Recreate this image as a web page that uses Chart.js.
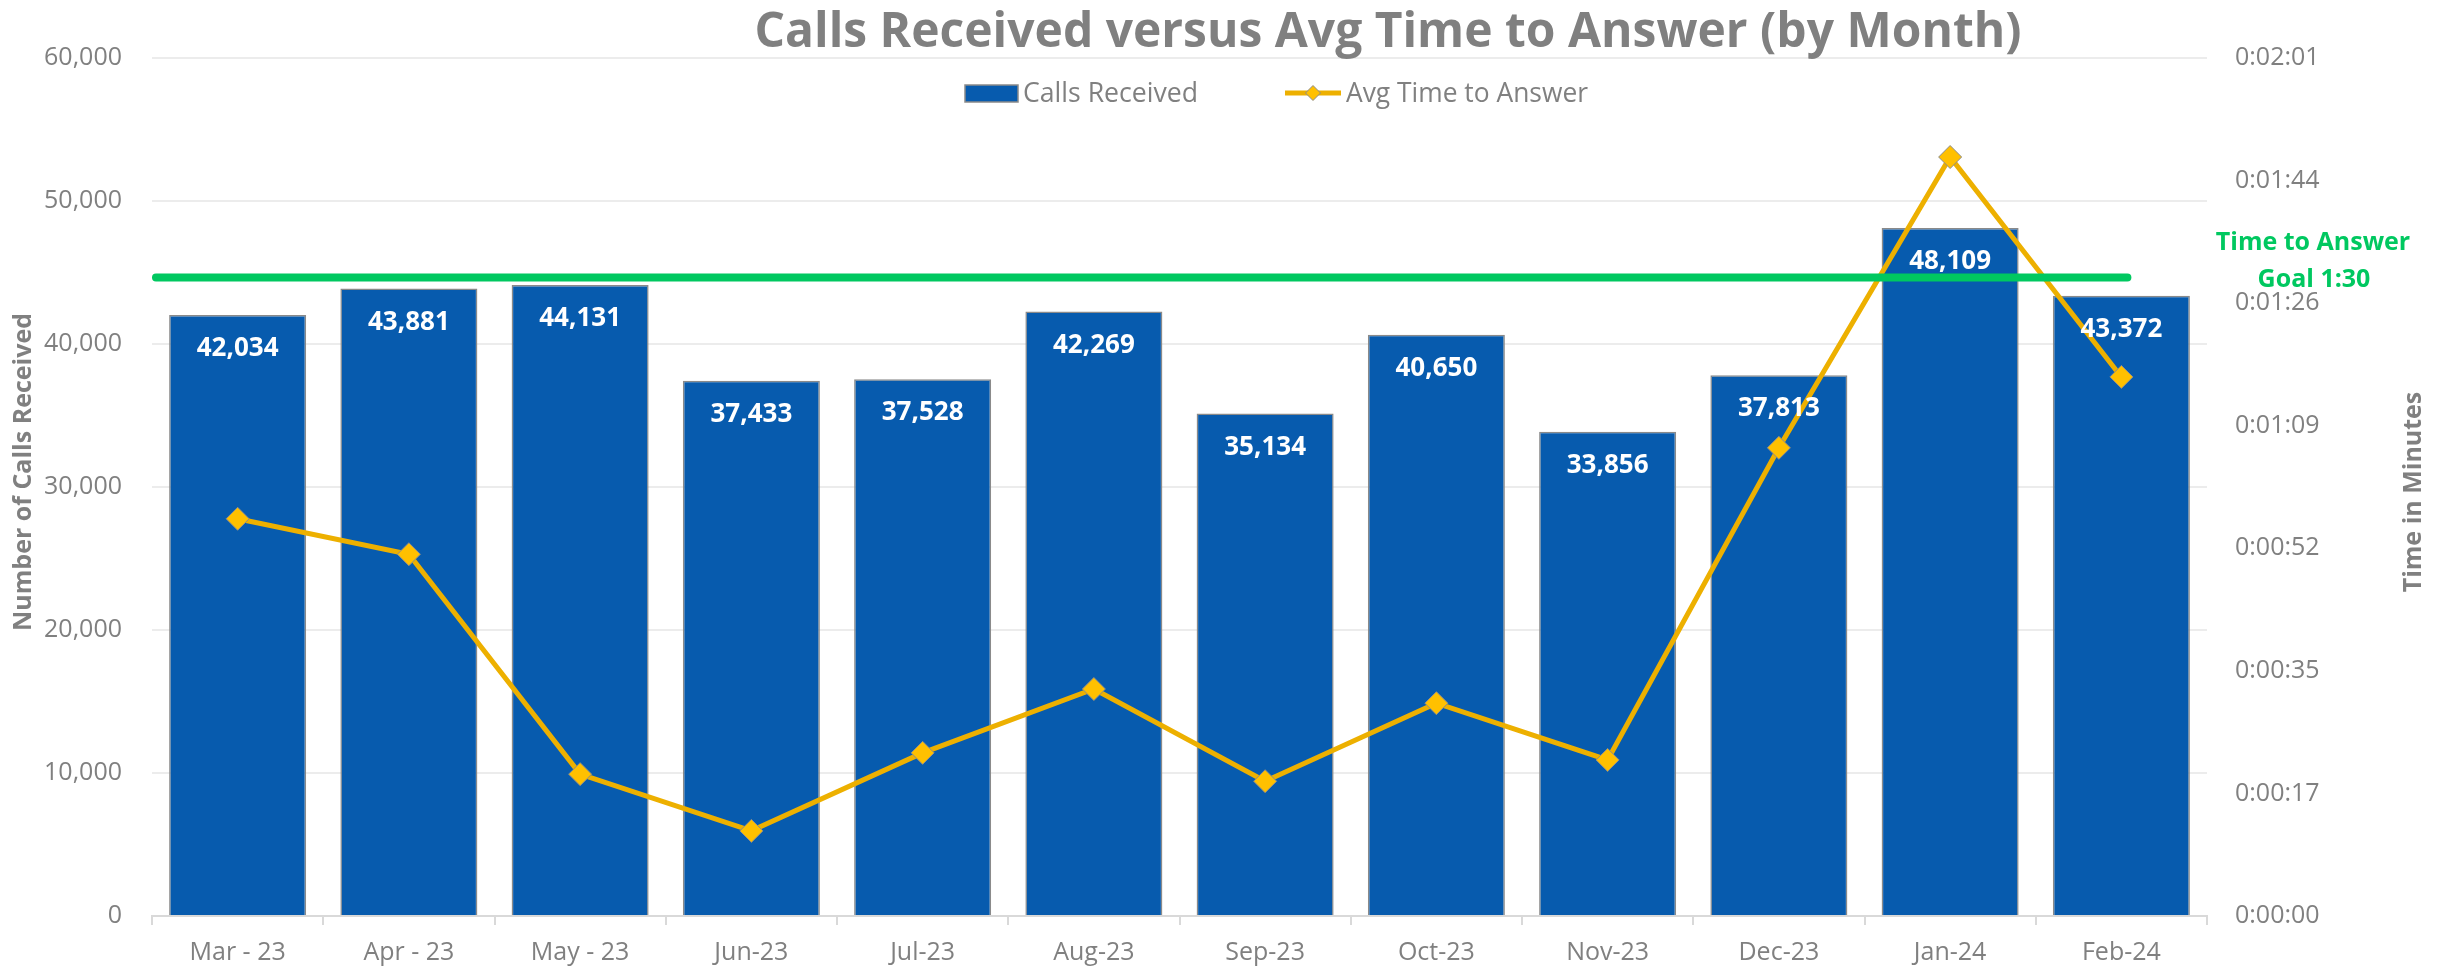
<!DOCTYPE html>
<html>
<head>
<meta charset="utf-8">
<script src="https://cdn.jsdelivr.net/npm/chart.js@4.4.1/dist/chart.umd.min.js"></script>
<style>
  html, body { margin: 0; padding: 0; background: #fff; }
  #wrap { width: 2450px; height: 972px; }
</style>
</head>
<body>
<div id="wrap"><canvas id="grafico" width="2450" height="972"></canvas></div>
<script>
const meses = ['Mar - 23', 'Apr - 23', 'May - 23', 'Jun-23', 'Jul-23', 'Aug-23', 'Sep-23', 'Oct-23', 'Nov-23', 'Dec-23', 'Jan-24', 'Feb-24'];
const chamadas = [42034, 43881, 44131, 37433, 37528, 42269, 35134, 40650, 33856, 37813, 48109, 43372];
// tempo medio de atendimento, em segundos
const tempoMedio = [56, 51, 20, 12, 23, 32, 19, 30, 22, 66, 107, 76];
const metaSegundos = 90;
const ticksChamadas = [0, 10000, 20000, 30000, 40000, 50000, 60000];
const ticksTempo = [0, 17.28, 34.56, 51.84, 69.12, 86.4, 103.68, 120.96];
const rotulosTempo = ['0:00:00', '0:00:17', '0:00:35', '0:00:52', '0:01:09', '0:01:26', '0:01:44', '0:02:01'];

const cinza = '#808080';
const azul = '#075BAE';
const dourado = '#EDB000';
const verde = '#00C860';
const fonte = '"Open Sans", "DejaVu Sans", sans-serif';

const enfeites = {
    id: 'enfeites',
    afterDatasetsDraw(chart) {
        const { ctx, chartArea, scales } = chart;
        const yMeta = scales.y1.getPixelForValue(metaSegundos);
        ctx.save();
        // linha da meta
        ctx.strokeStyle = verde;
        ctx.lineWidth = 8;
        ctx.lineCap = 'round';
        ctx.beginPath();
        ctx.moveTo(chartArea.left + 4, yMeta);
        ctx.lineTo(scales.x.getPixelForValue(meses.length - 1) + 6, yMeta);
        ctx.stroke();

        // valores nas barras
        const barras = chart.getDatasetMeta(1).data;
        ctx.fillStyle = '#fff';
        ctx.font = 'bold 26px ' + fonte;
        ctx.textAlign = 'center';
        ctx.textBaseline = 'alphabetic';
        barras.forEach((b, i) => {
            ctx.fillText(chamadas[i].toLocaleString('en-US'), b.x, b.y + 41);
        });
        ctx.restore();
    },
    afterDraw(chart) {
        const { ctx, scales } = chart;
        ctx.save();
        ctx.textBaseline = 'alphabetic';

        // titulo
        ctx.fillStyle = cinza;
        ctx.font = 'bold 49px ' + fonte;
        ctx.textAlign = 'center';
        ctx.fillText('Calls Received versus Avg Time to Answer (by Month)', 1388, 47, 1267);

        // legenda
        ctx.fillStyle = azul;
        ctx.fillRect(965, 85, 53, 17);
        ctx.strokeStyle = '#8a8a8a';
        ctx.lineWidth = 1.5;
        ctx.strokeRect(965, 85, 53, 17);
        ctx.fillStyle = cinza;
        ctx.font = '28px ' + fonte;
        ctx.textAlign = 'left';
        ctx.fillText('Calls Received', 1023, 102, 175);

        ctx.strokeStyle = dourado;
        ctx.lineWidth = 5;
        ctx.beginPath();
        ctx.moveTo(1285, 93);
        ctx.lineTo(1341, 93);
        ctx.stroke();
        ctx.fillStyle = '#FFC000';
        ctx.strokeStyle = '#8c8c8c';
        ctx.lineWidth = 1;
        ctx.beginPath();
        ctx.moveTo(1313 - 7.5, 93);
        ctx.lineTo(1313, 93 - 7.5);
        ctx.lineTo(1313 + 7.5, 93);
        ctx.lineTo(1313, 93 + 7.5);
        ctx.closePath();
        ctx.fill();
        ctx.stroke();
        ctx.fillStyle = cinza;
        ctx.fillText('Avg Time to Answer', 1346, 102, 242);

        // rotulo da meta
        const yMeta = scales.y1.getPixelForValue(metaSegundos);
        ctx.fillStyle = verde;
        ctx.font = 'bold 25px ' + fonte;
        ctx.textAlign = 'center';
        ctx.fillText('Time to Answer', 2313, yMeta - 28);
        ctx.fillText('Goal 1:30', 2314, yMeta + 9);

        // titulos dos eixos
        ctx.fillStyle = cinza;
        ctx.textBaseline = 'middle';
        ctx.translate(24, 472);
        ctx.rotate(-Math.PI / 2);
        ctx.fillText('Number of Calls Received', 0, 0, 335);
        ctx.setTransform(1, 0, 0, 1, 0, 0);
        ctx.translate(2414, 492);
        ctx.rotate(-Math.PI / 2);
        ctx.fillText('Time in Minutes', 0, 0, 230);
        ctx.restore();
    }
};

const fonteTicks = { family: fonte, size: 25 };

new Chart(document.getElementById('grafico'), {
    data: {
        labels: meses,
        datasets: [
            {
                type: 'line',
                label: 'Avg Time to Answer',
                data: tempoMedio,
                yAxisID: 'y1',
                order: 0,
                borderColor: dourado,
                borderWidth: 5,
                tension: 0,
                pointStyle: 'rectRot',
                pointRadius: 11.5,
                pointBackgroundColor: '#FFC000',
                pointBorderColor: '#8c8c8c',
                pointBorderWidth: 1
            },
            {
                type: 'bar',
                label: 'Calls Received',
                data: chamadas,
                yAxisID: 'y',
                order: 1,
                backgroundColor: azul,
                borderColor: '#8a8a8a',
                borderWidth: 1.5,
                barPercentage: 0.8,
                categoryPercentage: 1
            }
        ]
    },
    options: {
        responsive: false,
        animation: false,
        devicePixelRatio: 1,
        layout: { padding: { top: 58, left: 0, right: 0, bottom: 0 } },
        plugins: {
            legend: { display: false },
            title: { display: false },
            tooltip: { enabled: false }
        },
        scales: {
            x: {
                grid: { offset: true, drawOnChartArea: false, drawTicks: true, tickLength: 9, color: '#d9d9d9', lineWidth: 2 },
                border: { color: '#d9d9d9', width: 2 },
                ticks: { color: cinza, font: fonteTicks, padding: 13, maxRotation: 0, autoSkip: false },
                afterFit: s => { s.height = 56; }
            },
            y: {
                position: 'left',
                min: 0,
                max: 60000,
                afterBuildTicks: s => { s.ticks = ticksChamadas.map(v => ({ value: v })); },
                ticks: { color: cinza, font: fonteTicks, padding: 30, callback: v => v.toLocaleString('en-US') },
                grid: { color: '#ececec', lineWidth: 2, drawTicks: false },
                border: { display: false },
                afterFit: s => { s.width = 152; }
            },
            y1: {
                position: 'right',
                min: 0,
                max: 120.96,
                afterBuildTicks: s => { s.ticks = ticksTempo.map(v => ({ value: v })); },
                ticks: { color: cinza, font: fonteTicks, padding: 28, callback: (v, i) => rotulosTempo[i] },
                grid: { display: false, drawTicks: false },
                border: { display: false },
                afterFit: s => { s.width = 243; }
            }
        }
    },
    plugins: [enfeites]
});
</script>
</body>
</html>
